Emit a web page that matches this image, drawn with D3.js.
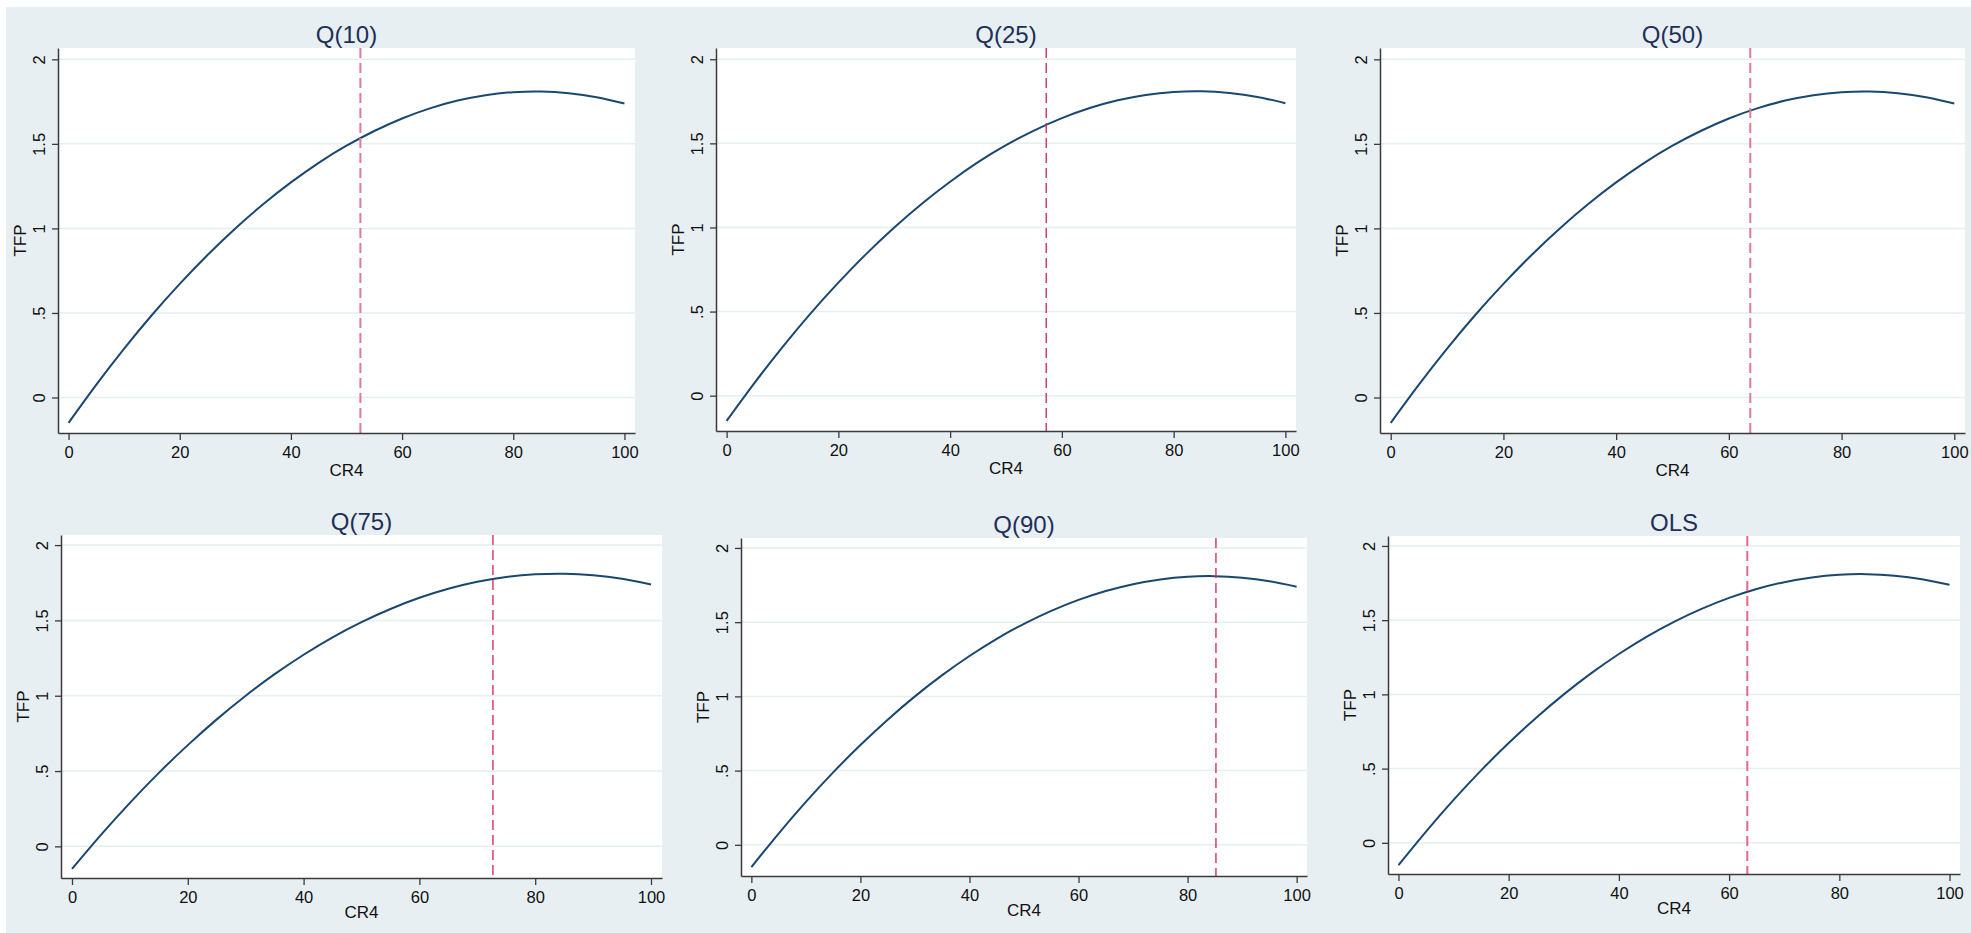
<!DOCTYPE html>
<html>
<head>
<meta charset="utf-8">
<script src="https://cdn.jsdelivr.net/npm/d3@7"></script>
<style>
  body { margin: 0; background: #fff; }
  text { font-family: "Liberation Sans", Arial, sans-serif; }
</style>
</head>
<body>
<div id="chart"></div>
<script>
// values
var panelTitles = ["Q(10)", "Q(25)", "Q(50)", "Q(75)", "Q(90)", "OLS"];
var cr4 = [0, 5, 10, 15, 20, 25, 30, 35, 40, 45, 50, 55, 60, 65, 70, 75, 80, 85, 90, 95, 100];
var tfp = [-0.150, 0.076, 0.289, 0.488, 0.672, 0.843, 1.000, 1.143, 1.272, 1.388, 1.489,
           1.576, 1.650, 1.710, 1.756, 1.788, 1.806, 1.810, 1.800, 1.776, 1.739];
var turningPoints = [52.5, 57.2, 63.8, 72.7, 85.2, 63.3];
var xTicks = [0, 20, 40, 60, 80, 100];
var yTicks = [0, 0.5, 1, 1.5, 2];
var yTickLabels = ["0", ".5", "1", "1.5", "2"];

var width = 1971, height = 933;

// plot regions (pixels) for each panel
var boxes = [
  {l: 58,   t: 48,  r: 635,  b: 433, cr: 37},
  {l: 716,  t: 48,  r: 1296, b: 431, cr: 37},
  {l: 1380, t: 48,  r: 1965, b: 433, cr: 37},
  {l: 61,   t: 535, r: 662,  b: 878, cr: 33.5},
  {l: 741,  t: 538, r: 1307, b: 876, cr: 33.5},
  {l: 1388, t: 536, r: 1960, b: 874, cr: 33.5}
];
var dashStyle = [
  {c: "#e07a96", w: 2},
  {c: "#d43060", w: 1.4},
  {c: "#e07a96", w: 2},
  {c: "#d43060", w: 1.4},
  {c: "#d43060", w: 1.4},
  {c: "#e06a8a", w: 2}
];

var svg = d3.select("#chart").append("svg")
  .attr("width", width).attr("height", height);

svg.append("rect")
  .attr("x", 6).attr("y", 7)
  .attr("width", width - 6).attr("height", height - 7)
  .attr("fill", "#e8eff2");

var points = cr4.map(function (d, i) { return [d, tfp[i]]; });

function drawPanel(i) {
  var box = boxes[i];
  var x = d3.scaleLinear().domain([-1.9, 101.9]).range([box.l, box.r]);
  var y = d3.scaleLinear().domain([-0.21, 2.067]).range([box.b, box.t]);
  var g = svg.append("g");

  g.append("rect")
    .attr("x", box.l).attr("y", box.t)
    .attr("width", box.r - box.l).attr("height", box.b - box.t)
    .attr("fill", "#fff");

  g.selectAll(".grid")
    .data(yTicks)
    .enter().append("line")
    .attr("x1", box.l).attr("x2", box.r)
    .attr("y1", function (d) { return y(d); })
    .attr("y2", function (d) { return y(d); })
    .attr("stroke", "#e6eef0")
    .attr("stroke-width", 1.5);

  var line = d3.line()
    .x(function (d) { return x(d[0]); })
    .y(function (d) { return y(d[1]); })
    .curve(d3.curveNatural);

  g.append("path")
    .datum(points)
    .attr("d", line)
    .attr("fill", "none")
    .attr("stroke", "#1a476f")
    .attr("stroke-width", 2);

  g.append("line")
    .attr("x1", x(turningPoints[i])).attr("x2", x(turningPoints[i]))
    .attr("y1", box.t).attr("y2", box.b)
    .attr("stroke", dashStyle[i].c)
    .attr("stroke-width", dashStyle[i].w)
    .attr("stroke-dasharray", "10,5");

  var xAxis = g.append("g")
    .attr("transform", "translate(0," + box.b + ")")
    .call(d3.axisBottom(x).tickValues(xTicks).tickSizeInner(7).tickSizeOuter(0).tickPadding(6.5));
  xAxis.selectAll("text").style("font-size", "16.5px").attr("fill", "#111");

  var yAxis = g.append("g")
    .attr("transform", "translate(" + box.l + ",0)")
    .call(d3.axisLeft(y).tickValues(yTicks).tickSizeInner(6).tickSizeOuter(0)
      .tickFormat(function (d, k) { return yTickLabels[k]; }));
  yAxis.selectAll("text")
    .style("font-size", "16.5px")
    .attr("fill", "#111")
    .attr("x", 0).attr("dy", 0)
    .attr("text-anchor", "middle")
    .attr("transform", "translate(-13,0) rotate(-90)");

  [xAxis, yAxis].forEach(function (a) {
    a.select(".domain").attr("stroke", "#3a3a3a").attr("stroke-width", 1.5);
    a.selectAll(".tick line").attr("stroke", "#3a3a3a").attr("stroke-width", 1.3);
  });

  g.append("text")
    .attr("x", (box.l + box.r) / 2).attr("y", box.t - 5)
    .attr("text-anchor", "middle")
    .style("font-size", "24px")
    .attr("fill", "#1e2f58")
    .text(panelTitles[i]);

  g.append("text")
    .attr("x", (box.l + box.r) / 2).attr("y", box.b + box.cr + 6)
    .attr("text-anchor", "middle")
    .style("font-size", "17px")
    .attr("fill", "#111")
    .text("CR4");

  g.append("text")
    .attr("transform", "translate(" + (box.l - 32) + "," + ((box.t + box.b) / 2) + ") rotate(-90)")
    .attr("text-anchor", "middle")
    .style("font-size", "17px")
    .attr("fill", "#111")
    .text("TFP");
}

for (var i = 0; i < panelTitles.length; i++) {
  drawPanel(i);
}
</script>
</body>
</html>
